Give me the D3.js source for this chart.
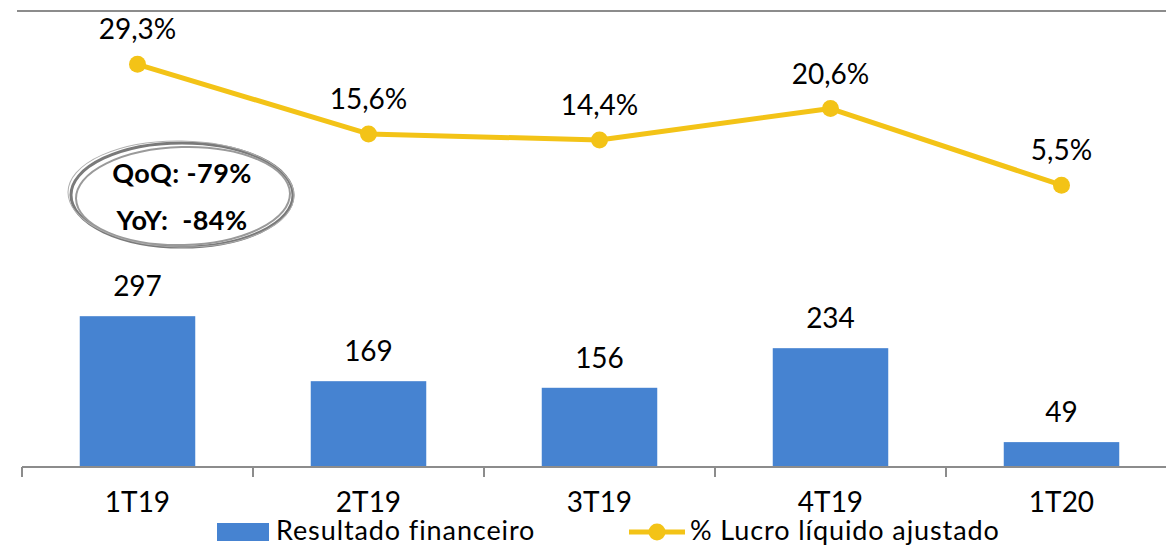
<!DOCTYPE html>
<html>
<head>
<meta charset="utf-8">
<script src="https://cdn.jsdelivr.net/npm/d3@7"></script>
<style>
  html, body { margin: 0; padding: 0; background: #fff; }
  svg { display: block; }
  text { font-family: Lato, "Open Sans", sans-serif; fill: #000; }
</style>
</head>
<body>
<svg id="chart" width="1166" height="547"></svg>
<script>
const categories = ["1T19", "2T19", "3T19", "4T19", "1T20"];
const resultadoFinanceiro = [297, 169, 156, 234, 49];
const lucroLiquidoPct = [29.3, 15.6, 14.4, 20.6, 5.5];
const pctLabels = ["29,3%", "15,6%", "14,4%", "20,6%", "5,5%"];
const legendLabels = ["Resultado financeiro", "% Lucro líquido ajustado"];
const badgeLines = ["QoQ: -79%", "YoY:  -84%"];

const barColor = "#4683D1";
const lineColor = "#F3C317";
const axisColor = "#8C8C8C";

const svg = d3.select("#chart");
const W = 1166, H = 547;
const plotLeft = 22, bandW = 231;
const plotTop = 10, plotBase = 467;

const x = d3.scaleBand().domain(categories)
  .range([plotLeft, plotLeft + bandW * categories.length])
  .paddingInner(0.5).paddingOuter(0.25);
const yBar = d3.scaleLinear().domain([0, 900]).range([plotBase, plotTop]);
const yLine = d3.scaleLinear().domain([-50, 40]).range([plotBase, plotTop]);

// top border line
svg.append("line")
  .attr("x1", 17).attr("x2", W).attr("y1", 11).attr("y2", 11)
  .attr("stroke", axisColor).attr("stroke-width", 2);

// bars
svg.append("g").selectAll("rect").data(resultadoFinanceiro).join("rect")
  .attr("x", (d, i) => x(categories[i]))
  .attr("width", x.bandwidth())
  .attr("y", d => yBar(d))
  .attr("height", d => yBar(0) - yBar(d))
  .attr("fill", barColor);

// bar labels
svg.append("g").selectAll("text").data(resultadoFinanceiro).join("text")
  .attr("x", (d, i) => x(categories[i]) + x.bandwidth() / 2)
  .attr("y", d => yBar(d) - 20)
  .attr("text-anchor", "middle")
  .attr("font-size", 28)
  .text(d => d);

// x axis
const xAxisScale = d3.scalePoint().domain(d3.range(categories.length + 1))
  .range([plotLeft, plotLeft + bandW * categories.length]);
const axisG = svg.append("g");
axisG.append("line")
  .attr("x1", plotLeft).attr("x2", plotLeft + bandW * categories.length)
  .attr("y1", plotBase).attr("y2", plotBase)
  .attr("stroke", axisColor).attr("stroke-width", 2);
axisG.selectAll("line.tick").data(xAxisScale.domain()).join("line")
  .attr("class", "tick")
  .attr("x1", d => xAxisScale(d)).attr("x2", d => xAxisScale(d))
  .attr("y1", plotBase).attr("y2", plotBase + 10)
  .attr("stroke", axisColor).attr("stroke-width", 2);
axisG.selectAll("text").data(categories).join("text")
  .attr("x", d => x(d) + x.bandwidth() / 2)
  .attr("y", 512)
  .attr("text-anchor", "middle")
  .attr("font-size", 28)
  .text(d => d);

// line
const cx = (i) => x(categories[i]) + x.bandwidth() / 2;
const line = d3.line().x((d, i) => cx(i)).y(d => yLine(d));
svg.append("path").datum(lucroLiquidoPct)
  .attr("d", line)
  .attr("fill", "none")
  .attr("stroke", lineColor)
  .attr("stroke-width", 5)
  .attr("stroke-linejoin", "round");
svg.append("g").selectAll("circle").data(lucroLiquidoPct).join("circle")
  .attr("cx", (d, i) => cx(i))
  .attr("cy", d => yLine(d))
  .attr("r", 8.5)
  .attr("fill", lineColor);
svg.append("g").selectAll("text").data(lucroLiquidoPct).join("text")
  .attr("x", (d, i) => cx(i))
  .attr("y", d => yLine(d) - 25)
  .attr("text-anchor", "middle")
  .attr("font-size", 28)
  .text((d, i) => pctLabels[i]);

// badge ellipse
const badge = svg.append("g");
badge.append("ellipse")
  .attr("cx", 182).attr("cy", 195).attr("rx", 111).attr("ry", 52)
  .attr("fill", "#fff").attr("stroke", "#7A7A7A").attr("stroke-width", 3);
badge.append("ellipse")
  .attr("cx", 183).attr("cy", 196).attr("rx", 107).attr("ry", 49)
  .attr("transform", "rotate(-1.5 183 196)")
  .attr("fill", "none").attr("stroke", "#9A9A9A").attr("stroke-width", 2);
badge.append("ellipse")
  .attr("cx", 181).attr("cy", 194).attr("rx", 113).attr("ry", 53)
  .attr("transform", "rotate(1 181 194)")
  .attr("fill", "none").attr("stroke", "#B0B0B0").attr("stroke-width", 1);
badge.selectAll("text").data(badgeLines).join("text")
  .attr("x", 182)
  .attr("y", (d, i) => 183 + i * 47)
  .attr("text-anchor", "middle")
  .attr("font-size", 27)
  .attr("font-weight", "bold")
  .attr("letter-spacing", 0.4)
  .style("white-space", "pre")
  .text(d => d);

// legend
const lg = svg.append("g");
lg.append("rect").attr("x", 217).attr("y", 523).attr("width", 52).attr("height", 18)
  .attr("fill", barColor);
lg.append("text").attr("x", 276).attr("y", 540).attr("font-size", 27)
  .attr("letter-spacing", 0.9).text(legendLabels[0]);
lg.append("line").attr("x1", 629).attr("x2", 685).attr("y1", 532).attr("y2", 532)
  .attr("stroke", lineColor).attr("stroke-width", 5);
lg.append("circle").attr("cx", 657).attr("cy", 532).attr("r", 8.5).attr("fill", lineColor);
lg.append("text").attr("x", 690).attr("y", 540).attr("font-size", 27)
  .attr("letter-spacing", 0.9).text(legendLabels[1]);
</script>
</body>
</html>
